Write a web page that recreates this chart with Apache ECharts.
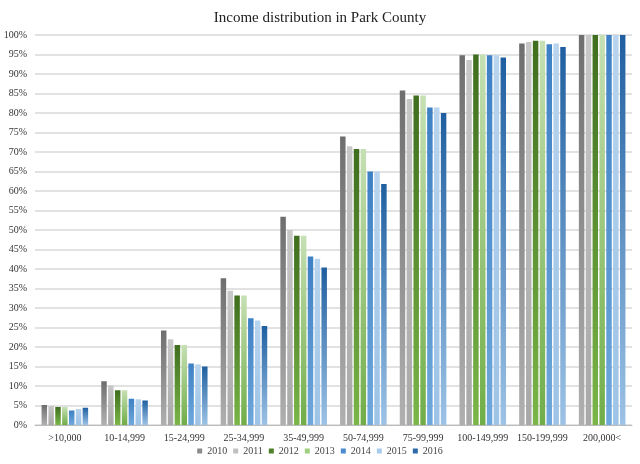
<!DOCTYPE html><html><head><meta charset="utf-8"><script src="https://cdn.jsdelivr.net/npm/echarts@6/dist/echarts.min.js"></script>
<style>html,body{margin:0;padding:0;background:#fff}#c{width:640px;height:464px}</style></head><body><div id="c"></div><script>
const categories=[">10,000","10-14,999","15-24,999","25-34,999","35-49,999","50-74,999","75-99,999","100-149,999","150-199,999","200,000<"];
const years=["2010","2011","2012","2013","2014","2015","2016"];
const v2010=[5.1,11.2,24.2,37.6,53.4,74.0,85.8,94.8,97.8,100];
const v2011=[4.9,10.2,22.0,34.4,50.0,71.5,83.6,93.6,98.2,100];
const v2012=[4.6,8.9,20.5,33.2,48.5,70.8,84.5,95.0,98.5,100];
const v2013=[4.6,8.9,20.5,33.2,48.5,70.8,84.5,95.0,98.5,100];
const v2014=[3.7,6.7,15.8,27.4,43.2,65.0,81.4,94.8,97.6,100];
const v2015=[4.1,6.6,15.6,26.8,42.6,65.0,81.4,94.8,97.8,100];
const v2016=[4.4,6.3,15.0,25.4,40.4,61.8,80.0,94.2,96.9,100];
const vals=[v2010,v2011,v2012,v2013,v2014,v2015,v2016];
const grads=[["#6e6e6e","#b0b0b0"],["#c8c8c8","#a8a8a8"],["#3f6e1e","#7ab648"],["#c6e0b4","#70ad47"],["#3d80c4","#6fa8dc"],["#b8d4ee","#9dc3e6"],["#1f5fa0","#9dc3e6"]];
const legendCol=["#8c8c8c","#c0c0c0","#4f7f2a","#9fcf7f","#4a8ad0","#a9cbed","#2e6aa8"];
const chart=echarts.init(document.getElementById('c'));
chart.setOption({
 title:{text:"Income distribution in Park County",left:'center',top:6,textStyle:{fontFamily:"Liberation Serif",fontWeight:'normal',fontSize:15,color:'#222'}},
 legend:{bottom:3,itemWidth:5,itemHeight:5,itemGap:6,icon:'rect',textStyle:{fontFamily:"Liberation Serif",fontSize:10,color:'#444'},data:years.map((y,i)=>({name:y,itemStyle:{color:legendCol[i]}}))},
 grid:{left:35,right:8,top:35,bottom:39},
 xAxis:{type:'category',data:categories,axisTick:{show:false},axisLine:{lineStyle:{color:'#bbb'}},axisLabel:{fontFamily:"Liberation Serif",fontSize:10,color:'#333',interval:0}},
 yAxis:{type:'value',min:0,max:100,interval:5,axisLabel:{formatter:'{value}%',fontFamily:"Liberation Serif",fontSize:10,color:'#333'},splitLine:{lineStyle:{color:'#d9d9d9',width:1.5}}},
 series:years.map((y,i)=>({name:y,type:'bar',data:vals[i],barGap:'25%',barCategoryGap:'22%',
  itemStyle:{color:new echarts.graphic.LinearGradient(0,0,0,1,[{offset:0,color:grads[i][0]},{offset:1,color:grads[i][1]}])}}))
});
</script></body></html>
